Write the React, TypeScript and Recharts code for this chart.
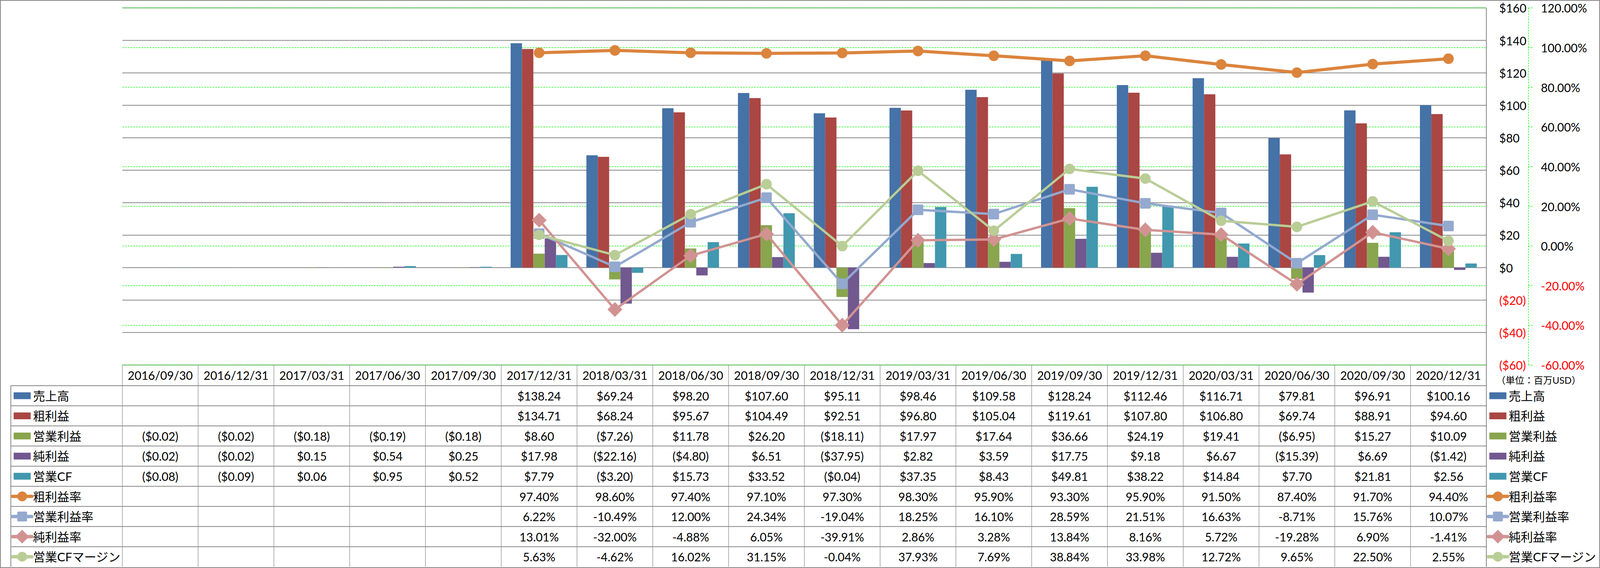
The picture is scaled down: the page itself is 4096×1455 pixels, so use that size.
import React from 'react'
import { ComposedChart, Bar, Line, XAxis, YAxis, CartesianGrid } from 'recharts'

// reference is 4223 wide, window is 4096
const S = 4096 / 4223
const W = 4096
const H = 1455

const FONT = "Lato, 'Noto Sans CJK JP', sans-serif"

const periods = [
  '2016/09/30', '2016/12/31', '2017/03/31', '2017/06/30', '2017/09/30', '2017/12/31',
  '2018/03/31', '2018/06/30', '2018/09/30', '2018/12/31', '2019/03/31', '2019/06/30',
  '2019/09/30', '2019/12/31', '2020/03/31', '2020/06/30', '2020/09/30', '2020/12/31',
]

// 百万USD
const sales = [null, null, null, null, null, 138.24, 69.24, 98.2, 107.6, 95.11, 98.46, 109.58, 128.24, 112.46, 116.71, 79.81, 96.91, 100.16]
const gross = [null, null, null, null, null, 134.71, 68.24, 95.67, 104.49, 92.51, 96.8, 105.04, 119.61, 107.8, 106.8, 69.74, 88.91, 94.6]
const opIncome = [-0.02, -0.02, -0.18, -0.19, -0.18, 8.6, -7.26, 11.78, 26.2, -18.11, 17.97, 17.64, 36.66, 24.19, 19.41, -6.95, 15.27, 10.09]
const netIncome = [-0.02, -0.02, 0.15, 0.54, 0.25, 17.98, -22.16, -4.8, 6.51, -37.95, 2.82, 3.59, 17.75, 9.18, 6.67, -15.39, 6.69, -1.42]
const opCF = [-0.08, -0.09, 0.06, 0.95, 0.52, 7.79, -3.2, 15.73, 33.52, -0.04, 37.35, 8.43, 49.81, 38.22, 14.84, 7.7, 21.81, 2.56]

// %
const grossMargin = [null, null, null, null, null, 97.4, 98.6, 97.4, 97.1, 97.3, 98.3, 95.9, 93.3, 95.9, 91.5, 87.4, 91.7, 94.4]
const opMargin = [null, null, null, null, null, 6.22, -10.49, 12.0, 24.34, -19.04, 18.25, 16.1, 28.59, 21.51, 16.63, -8.71, 15.76, 10.07]
const netMargin = [null, null, null, null, null, 13.01, -32.0, -4.88, 6.05, -39.91, 2.86, 3.28, 13.84, 8.16, 5.72, -19.28, 6.9, -1.41]
const cfMargin = [null, null, null, null, null, 5.63, -4.62, 16.02, 31.15, -0.04, 37.93, 7.69, 38.84, 33.98, 12.72, 9.65, 22.5, 2.55]

const usdTicks = [-60, -40, -20, 0, 20, 40, 60, 80, 100, 120, 140, 160]
const pctTicks = [-60, -40, -20, 0, 20, 40, 60, 80, 100, 120]

type Row = { name: string; key: string; kind: 'bar' | 'line'; color: string; marker?: string; values: (number | null)[] }

const rows: Row[] = [
  { name: '売上高', key: 'sales', kind: 'bar', color: '#4572A7', values: sales },
  { name: '粗利益', key: 'gross', kind: 'bar', color: '#AA4643', values: gross },
  { name: '営業利益', key: 'opIncome', kind: 'bar', color: '#89A54E', values: opIncome },
  { name: '純利益', key: 'netIncome', kind: 'bar', color: '#71588F', values: netIncome },
  { name: '営業CF', key: 'opCF', kind: 'bar', color: '#4198AF', values: opCF },
  { name: '粗利益率', key: 'grossMargin', kind: 'line', color: '#DB843D', marker: 'circle', values: grossMargin },
  { name: '営業利益率', key: 'opMargin', kind: 'line', color: '#93A9CF', marker: 'square', values: opMargin },
  { name: '純利益率', key: 'netMargin', kind: 'line', color: '#D19392', marker: 'diamond', values: netMargin },
  { name: '営業CFマージン', key: 'cfMargin', kind: 'line', color: '#B9CD96', marker: 'circle', values: cfMargin },
]

const data = periods.map((p, i) => {
  const d: Record<string, any> = { period: p }
  rows.forEach((r) => { d[r.key] = r.values[i] })
  return d
})

// axis ids: "a" sits next to the plot, "b" outside it
const USD = 'a_usd'
const PCT = 'b_pct'

// layout, in reference pixels
const PLOT_L = 323
const PLOT_T = 21
const PLOT_R = 3923
const PLOT_B = 964
const PCT_X = 4034
const HEAD_B = 1018.6
const ROW_H = 53.15
const TABLE_B = 1497
const LEG_L = 28.6

const GRID = '#868686'

const fmtUsd = (v: number) => (v < 0 ? `($${Math.abs(v).toFixed(2)})` : `$${v.toFixed(2)}`)
const fmtPct = (v: number) => `${v.toFixed(2)}%`
const rowMid = (i: number) => (HEAD_B + ROW_H * (i + 0.5)) * S

function Marker({ kind, cx, cy, color, size }: { kind?: string; cx: number; cy: number; color: string; size: number }) {
  if (kind === 'square') {
    return <rect x={cx - size} y={cy - size} width={size * 2} height={size * 2} rx={3} fill={color} />
  }
  if (kind === 'diamond') {
    const d = size * 1.4
    return <path d={`M${cx},${cy - d}L${cx + d},${cy}L${cx},${cy + d}L${cx - d},${cy}Z`} fill={color} />
  }
  return <circle cx={cx} cy={cy} r={size} fill={color} />
}

const makeDot = (r: Row) => (p: any) => {
  if (p.cy == null || Number.isNaN(p.cy) || p.value == null) return <g key={`d-${r.key}-${p.index}`} />
  return (
    <g key={`d-${r.key}-${p.index}`}>
      <Marker kind={r.marker} cx={p.cx} cy={p.cy} color={r.color} size={14 * S} />
    </g>
  )
}

function UsdTick(props: any) {
  const { x, y, payload } = props
  const v = payload.value as number
  const label = v < 0 ? `($${Math.abs(v)})` : `$${v}`
  return (
    <text x={x} y={y} textAnchor="start" dominantBaseline="central" fontSize={30} fontFamily={FONT} fill={v < 0 ? '#FF0000' : '#000'}>
      {label}
    </text>
  )
}

function PctTick(props: any) {
  const { x, y, payload } = props
  const v = payload.value as number
  return (
    <text x={x} y={y} textAnchor="start" dominantBaseline="central" fontSize={30} fontFamily={FONT} fill={v < 0 ? '#FF0000' : '#000'}>
      {`${v.toFixed(2)}%`}
    </text>
  )
}

// one column of the data table under each category
function TableColumn(props: any) {
  const { x, payload } = props
  const idx = periods.indexOf(payload.value)
  const half = ((PLOT_R - PLOT_L) / periods.length / 2) * S
  return (
    <g>
      <line x1={x - half} x2={x - half} y1={PLOT_B * S} y2={TABLE_B * S} stroke="#9a9a9a" strokeWidth={1.5} />
      <text x={x} y={((PLOT_B + HEAD_B) / 2) * S} textAnchor="middle" dominantBaseline="central" fontSize={30} fontFamily={FONT} fill="#000">
        {payload.value}
      </text>
      {rows.map((r, i) => {
        const v = r.values[idx]
        if (v == null) return null
        return (
          <text key={r.key} x={x} y={rowMid(i)} textAnchor="middle" dominantBaseline="central" fontSize={30} fontFamily={FONT} fill="#000">
            {r.kind === 'bar' ? fmtUsd(v) : fmtPct(v)}
          </text>
        )
      })}
    </g>
  )
}

function LegendKey({ r, x0, y }: { r: Row; x0: number; y: number }) {
  if (r.kind === 'bar') {
    return <rect x={(x0 + 3) * S} y={y - 9 * S} width={45 * S} height={18 * S} fill={r.color} />
  }
  const cx = (x0 + 25.5) * S
  return (
    <g>
      <line x1={x0 * S} x2={(x0 + 51) * S} y1={y} y2={y} stroke={r.color} strokeWidth={9 * S} strokeLinecap="round" />
      <Marker kind={r.marker} cx={cx} cy={y} color={r.color} size={13 * S} />
    </g>
  )
}

function Overlay() {
  const tableLines = rows.map((_, i) => HEAD_B + ROW_H * i)
  return (
    <svg width={W} height={H} style={{ position: 'absolute', left: 0, top: 0, pointerEvents: 'none' }}>
      <rect x={1} y={1} width={W - 2} height={H - 2} fill="none" stroke={GRID} strokeWidth={2} />
      {tableLines.map((ly, i) => (
        <line key={i} x1={LEG_L * S} x2={PLOT_R * S} y1={ly * S} y2={ly * S} stroke={GRID} strokeWidth={2} />
      ))}
      <line x1={LEG_L * S} x2={LEG_L * S} y1={HEAD_B * S} y2={TABLE_B * S} stroke={GRID} strokeWidth={2} />
      <line x1={PLOT_R * S} x2={PLOT_R * S} y1={PLOT_B * S} y2={TABLE_B * S} stroke={GRID} strokeWidth={2} />
      {rows.map((r, i) => (
        <g key={r.key}>
          <LegendKey r={r} x0={33} y={rowMid(i)} />
          <text x={87 * S} y={rowMid(i)} dominantBaseline="central" fontSize={31} fontFamily={FONT} fill="#000">
            {r.name}
          </text>
          <LegendKey r={r} x0={3928} y={rowMid(i)} />
          <text x={3982 * S} y={rowMid(i)} dominantBaseline="central" fontSize={31} fontFamily={FONT} fill="#000">
            {r.name}
          </text>
        </g>
      ))}
      <text x={3949 * S} y={1004 * S} dominantBaseline="central" fontSize={24} fontFamily={FONT} fill="#000">
        （単位：百万USD）
      </text>
    </svg>
  )
}

export default function App() {
  const barRows = rows.filter((r) => r.kind === 'bar')
  const lineRows = rows.filter((r) => r.kind === 'line')
  return (
    <div style={{ position: 'absolute', left: 0, top: 0, width: W, height: H, background: '#fff' }}>
      <ComposedChart
        width={W}
        height={H}
        data={data}
        margin={{ top: PLOT_T * S, left: PLOT_L * S, right: 0, bottom: 0 }}
        barGap={0}
      >
        <CartesianGrid yAxisId={USD} vertical={false} stroke={GRID} strokeWidth={2} />
        <CartesianGrid yAxisId={PCT} vertical={false} stroke="#00FF00" strokeWidth={1.5} strokeDasharray="4 3" />
        <XAxis
          dataKey="period"
          interval={0}
          height={H - PLOT_B * S}
          axisLine={false}
          tickLine={false}
          tickSize={0}
          tickMargin={0}
          tick={(p: any) => <TableColumn {...p} />}
        />
        <YAxis
          yAxisId={USD}
          orientation="right"
          domain={[-60, 160]}
          ticks={usdTicks}
          interval={0}
          width={(PCT_X - PLOT_R) * S}
          axisLine={{ stroke: GRID, strokeWidth: 2 }}
          tickLine={false}
          tickSize={0}
          tickMargin={34 * S}
          tick={(p: any) => <UsdTick {...p} />}
        />
        <YAxis
          yAxisId={PCT}
          orientation="right"
          domain={[-60, 120]}
          ticks={pctTicks}
          interval={0}
          width={W - PCT_X * S}
          axisLine={{ stroke: '#00FF00', strokeWidth: 1.5, strokeDasharray: '4 3' }}
          tickLine={{ stroke: '#00FF00', strokeWidth: 1.5, strokeDasharray: '4 3' }}
          tickSize={11 * S}
          tickMargin={22 * S}
          tick={(p: any) => <PctTick {...p} />}
        />
        {barRows.map((r) => (
          <Bar key={r.key} yAxisId={USD} dataKey={r.key} fill={r.color} barSize={30 * S} isAnimationActive={false} />
        ))}
        {lineRows.map((r) => (
          <Line
            key={r.key}
            yAxisId={PCT}
            dataKey={r.key}
            stroke={r.color}
            strokeWidth={r.key === 'grossMargin' ? 8 : 6}
            dot={makeDot(r)}
            activeDot={false}
            isAnimationActive={false}
          />
        ))}
      </ComposedChart>
      <Overlay />
    </div>
  )
}
